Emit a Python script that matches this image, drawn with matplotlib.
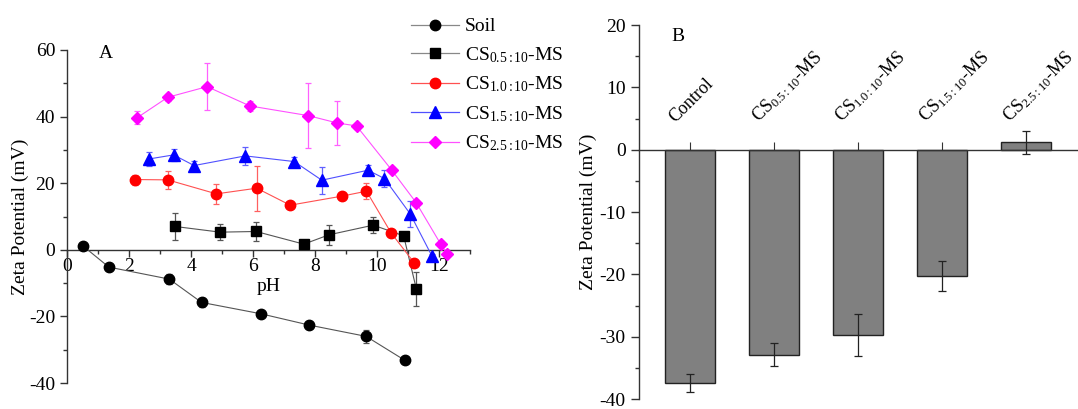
import matplotlib
matplotlib.use("Agg")
import matplotlib.pyplot as plt
from matplotlib.ticker import MultipleLocator
from matplotlib.lines import Line2D

plt.rcParams['font.family'] = ['Liberation Serif', 'DejaVu Serif']
plt.rcParams['mathtext.fontset'] = 'custom'
plt.rcParams['mathtext.rm'] = 'Liberation Serif'
plt.rcParams['mathtext.it'] = 'Liberation Serif:italic'
plt.rcParams['mathtext.bf'] = 'Liberation Serif:bold'
plt.rcParams['axes.unicode_minus'] = False

# ---- Panel A data ----
soil_ph = [0.51, 1.35, 3.30, 4.34, 6.25, 7.81, 9.65, 10.90]
soil_zeta = [1.2, -5.2, -8.8, -15.8, -19.2, -22.6, -26.0, -33.2]
soil_err = [0.6, 0.6, 1.5, 1.3, 0.8, 0.8, 2.0, 0.8]

cs05_ph = [3.49, 4.94, 6.10, 7.64, 8.45, 9.88, 10.86, 11.27]
cs05_zeta = [7.0, 5.3, 5.5, 1.7, 4.5, 7.4, 4.2, -11.8]
cs05_err = [4.2, 2.5, 2.8, 0.8, 3.0, 2.3, 0.8, 5.0]

cs10_ph = [2.19, 3.25, 4.82, 6.12, 7.20, 8.86, 9.66, 10.46, 11.20]
cs10_zeta = [21.1, 21.0, 16.8, 18.5, 13.4, 16.1, 17.6, 5.0, -3.9]
cs10_err = [1.5, 2.8, 3.0, 6.7, 0.8, 1.0, 2.4, 0.8, 0.8]

cs15_ph = [2.66, 3.44, 4.10, 5.75, 7.33, 8.22, 9.71, 10.24, 11.07, 11.78]
cs15_zeta = [27.3, 28.5, 25.3, 28.2, 26.5, 20.9, 23.9, 21.4, 10.8, -2.0]
cs15_err = [2.2, 1.8, 1.5, 2.8, 1.5, 4.0, 1.5, 2.5, 4.0, 0.8]

cs25_ph = [2.27, 3.25, 4.52, 5.90, 7.78, 8.71, 9.34, 10.47, 11.26, 12.05, 12.26]
cs25_zeta = [39.7, 45.8, 49.0, 43.2, 40.3, 38.1, 37.2, 24.0, 14.2, 1.8, -1.2]
cs25_err = [2.0, 1.0, 7.0, 1.5, 9.8, 6.7, 0.8, 0.8, 0.8, 0.8, 0.8]

legend_labels = ['Soil', r'CS$_{\mathrm{0.5{:}10}}$-MS', r'CS$_{\mathrm{1.0{:}10}}$-MS',
                 r'CS$_{\mathrm{1.5{:}10}}$-MS', r'CS$_{\mathrm{2.5{:}10}}$-MS']

# ---- Panel B data ----
bar_labels = ['Control', r'CS$_{\mathrm{0.5{:}10}}$-MS', r'CS$_{\mathrm{1.0{:}10}}$-MS',
              r'CS$_{\mathrm{1.5{:}10}}$-MS', r'CS$_{\mathrm{2.5{:}10}}$-MS']
bar_values = [-37.4, -32.9, -29.7, -20.2, 1.16]
bar_errors = [1.4, 1.85, 3.35, 2.4, 1.8]

W, H = 1078, 409
fig = plt.figure(figsize=(W / 100, H / 100), dpi=100)

axA = fig.add_axes([67 / W, (H - 383) / H, (470 - 67) / W, (383 - 50) / H])
axB = fig.add_axes([639 / W, (H - 399) / H, (W - 639) / W, (399 - 25) / H])

spine_col = '#333333'
fs = 14

series = [
    (soil_ph, soil_zeta, soil_err, 'o', 'black', '#555555', '#555555', 7.5),
    (cs05_ph, cs05_zeta, cs05_err, 's', 'black', '#555555', '#555555', 7),
    (cs10_ph, cs10_zeta, cs10_err, 'o', 'red', '#ff5050', '#ff6060', 7.5),
    (cs15_ph, cs15_zeta, cs15_err, '^', 'blue', '#5050ff', '#6060ff', 8),
    (cs25_ph, cs25_zeta, cs25_err, 'D', '#ff00ff', '#ff50ff', '#ff60ff', 6.5),
]
handles = []
for (x, y, e, m, mc, lc, ec, ms), lab in zip(series, legend_labels):
    axA.errorbar(x, y, yerr=e, fmt='none', ecolor=ec, elinewidth=0.9,
                 capsize=2.2, capthick=0.9, zorder=2)
    axA.plot(x, y, '-', color=lc, lw=0.8, marker=m, ms=ms, mfc=mc, mec=mc,
             zorder=3)
    hc = '#888888' if mc == 'black' else lc
    handles.append(Line2D([], [], color=hc, lw=0.9, marker=m, ms=ms, mfc=mc,
                          mec=mc))

axA.set_xlim(0, 13)
axA.set_ylim(-40, 60)
for s in ['top', 'right']:
    axA.spines[s].set_visible(False)
axA.spines['bottom'].set_position(('data', 0))
for s in ['left', 'bottom']:
    axA.spines[s].set_color(spine_col)
    axA.spines[s].set_linewidth(1.0)
axA.xaxis.set_major_locator(MultipleLocator(2))
axA.xaxis.set_minor_locator(MultipleLocator(1))
axA.yaxis.set_major_locator(MultipleLocator(20))
axA.yaxis.set_minor_locator(MultipleLocator(10))
axA.tick_params(which='both', direction='out', color=spine_col,
                labelsize=fs, width=1.0)
axA.tick_params(which='major', length=5)
axA.tick_params(which='minor', length=3)
axA.tick_params(axis='x', pad=1)
axA.set_xlabel('pH', fontsize=fs, labelpad=2)
axA.set_ylabel('Zeta Potential (mV)', fontsize=fs, labelpad=0)
axA.text(1.24, 59, 'A', fontsize=fs, ha='center', va='center')

fig.legend(handles, legend_labels, loc='upper left',
           bbox_to_anchor=(403 / W, 1 - 10 / H), frameon=False, fontsize=fs,
           handlelength=2.5, handletextpad=0.3, labelspacing=0.5,
           borderaxespad=0)

# ---- Panel B ----
xpos = list(range(1, len(bar_values) + 1))
axB.bar(xpos, bar_values, width=0.6, color='#808080', edgecolor='#222222',
        linewidth=1.0, zorder=2)
axB.errorbar(xpos, bar_values, yerr=bar_errors, fmt='none', ecolor='#222222',
             elinewidth=0.9, capsize=3, capthick=0.9, zorder=3)
axB.set_xlim(0.39, 5.62)
axB.set_ylim(-40, 20)
for s in ['top', 'right']:
    axB.spines[s].set_visible(False)
axB.spines['bottom'].set_position(('data', 0))
for s in ['left', 'bottom']:
    axB.spines[s].set_color(spine_col)
    axB.spines[s].set_linewidth(1.0)
axB.yaxis.set_major_locator(MultipleLocator(10))
axB.yaxis.set_minor_locator(MultipleLocator(5))
axB.tick_params(axis='y', which='both', direction='out', color=spine_col,
                labelsize=fs, width=1.0)
axB.tick_params(axis='y', which='major', length=6)
axB.tick_params(axis='y', which='minor', length=3)
axB.set_xticks(xpos)
axB.tick_params(axis='x', direction='in', length=6, color=spine_col,
                labelbottom=False)
for xi, lab in zip(xpos, bar_labels):
    axB.text(xi - 0.15, 3.8, lab, rotation=45, rotation_mode='anchor',
             ha='left', va='bottom', fontsize=13)
axB.set_ylabel('Zeta Potential (mV)', fontsize=fs, labelpad=2)
axB.text(0.86, 18.2, 'B', fontsize=fs, ha='center', va='center')

fig.savefig('out.png', dpi=100)
